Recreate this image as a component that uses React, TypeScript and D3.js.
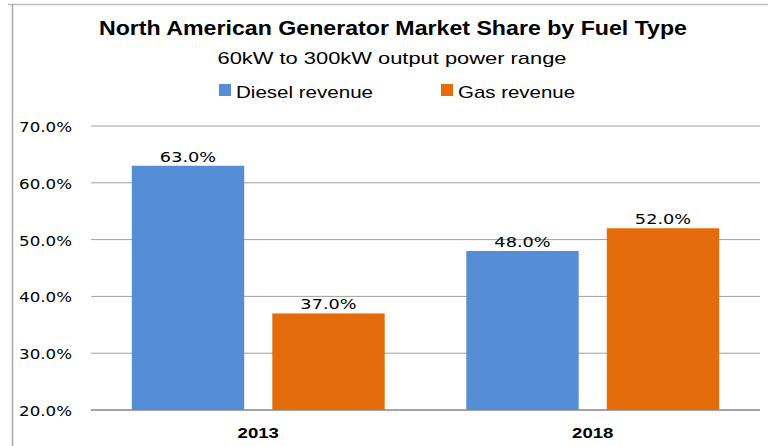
import React from 'react'
import * as d3 from 'd3'

// Data
const years = ['2013', '2018']
const seriesNames = ['Diesel revenue', 'Gas revenue']
const dieselValues = [63.0, 48.0]
const gasValues = [37.0, 52.0]
const yTicks = [20, 30, 40, 50, 60, 70]

const colors = ['#558ed5', '#e46c0a']

export default function App() {
    // SVG size
    const width = 768
    const height = 446

    // Plot area
    const left = 91
    const right = 760
    const top = 126
    const bottom = 410

    const series = [dieselValues, gasValues]

    // Create scales
    const yScale = d3.scaleLinear().domain([20, 70]).range([bottom, top])
    const x0 = d3.scaleBand<string>()
        .domain(years)
        .range([left, right])
        .paddingInner(0.244)
        .paddingOuter(0.122)
    const x1 = d3.scaleBand<string>()
        .domain(seriesNames)
        .range([0, x0.bandwidth()])
        .paddingInner(0.2)

    const labelFont = 'DejaVu Sans, Verdana, sans-serif'
    const textFont = 'Liberation Sans, Arial, sans-serif'

    return (
        <svg width={width} height={height} style={{ position: 'absolute', left: 0, top: 0, background: '#fff' }}>
            {/* Frame */}
            <line x1={8} x2={width} y1={4.5} y2={4.5} stroke="#bfbfbf" strokeWidth={1.5} />
            <line x1={12.5} x2={12.5} y1={4} y2={height} stroke="#a6a6a6" strokeWidth={1.5} />

            {/* Title */}
            <text x={393} y={35} textAnchor="middle" fontFamily={textFont} fontWeight="bold" fontSize={20}
                textLength={588} lengthAdjust="spacingAndGlyphs" fill="#000">
                North American Generator Market Share by Fuel Type
            </text>
            <text x={392} y={64} textAnchor="middle" fontFamily={textFont} fontSize={17}
                textLength={349} lengthAdjust="spacingAndGlyphs" fill="#000">
                60kW to 300kW output power range
            </text>

            {/* Legend */}
            <rect x={219} y={84} width={12} height={12} fill={colors[0]} />
            <text x={236} y={98} fontFamily={textFont} fontSize={17} textLength={137}
                lengthAdjust="spacingAndGlyphs" fill="#000">{seriesNames[0]}</text>
            <rect x={441} y={84} width={12} height={12} fill={colors[1]} />
            <text x={458} y={98} fontFamily={textFont} fontSize={17} textLength={117}
                lengthAdjust="spacingAndGlyphs" fill="#000">{seriesNames[1]}</text>

            {/* Gridlines and y labels */}
            {yTicks.map(t => (
                <g key={t}>
                    <line x1={left} x2={right} y1={yScale(t)} y2={yScale(t)}
                        stroke={t === 20 ? '#868686' : '#a0a0a0'} strokeWidth={1} />
                    <text transform={`translate(72,${yScale(t) + 6}) scale(1.19,1)`} textAnchor="end"
                        fontFamily={labelFont} fontSize={14} fill="#000">
                        {t.toFixed(1) + '%'}
                    </text>
                </g>
            ))}

            {/* Bars */}
            {years.map((year, i) => (
                <g key={year} transform={`translate(${x0(year)},0)`}>
                    {seriesNames.map((name, j) => {
                        const v = series[j][i]
                        const bx = x1(name) as number
                        return (
                            <g key={name}>
                                <rect x={bx} y={yScale(v)} width={x1.bandwidth()} height={yScale(20) - yScale(v)}
                                    fill={colors[j]} />
                                <text transform={`translate(${bx + x1.bandwidth() / 2},${yScale(v) - 4}) scale(1.24,1)`}
                                    textAnchor="middle" fontFamily={labelFont} fontSize={14.3} fill="#000">
                                    {v.toFixed(1) + '%'}
                                </text>
                            </g>
                        )
                    })}
                </g>
            ))}

            {/* Axis line redraw on top */}
            <line x1={left} x2={right} y1={bottom} y2={bottom} stroke="#868686" strokeWidth={1} />

            {/* Category labels */}
            {years.map(year => (
                <text key={year}
                    transform={`translate(${(x0(year) as number) + x0.bandwidth() / 2},437.5) scale(1.33,1)`}
                    textAnchor="middle" fontFamily={textFont} fontWeight="bold" fontSize={14} fill="#000">
                    {year}
                </text>
            ))}
        </svg>
    )
}
